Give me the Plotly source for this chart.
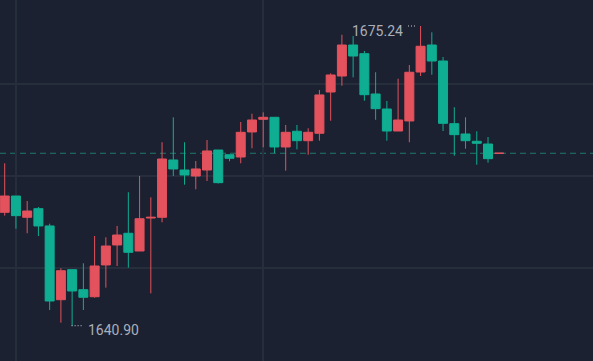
import plotly.graph_objects as go

idx = list(range(45))
open_ = [1653.89, 1655.76, 1653.32, 1654.31, 1652.33, 1643.88, 1647.32, 1645.03, 1644.22, 1647.86,
         1650.15, 1651.49, 1649.46, 1653.24, 1653.32, 1659.89, 1658.74, 1658.05, 1658.74, 1661.03,
         1660.49, 1660.23, 1663.10, 1664.55, 1664.78, 1661.38, 1663.18, 1662.10, 1662.95, 1667.68,
         1669.51, 1673.06, 1672.07, 1667.45, 1665.73, 1663.21, 1664.36, 1669.97, 1673.06, 1671.23,
         1664.05, 1662.87, 1662.03, 1661.72, 1660.66]
high = [1659.51, 1655.76, 1655.19, 1654.50, 1652.59, 1647.48, 1647.32, 1648.05, 1651.18, 1651.03,
        1652.33, 1656.19, 1658.05, 1655.61, 1661.92, 1664.78, 1661.92, 1659.77, 1662.18, 1661.03,
        1660.49, 1664.24, 1665.19, 1665.35, 1664.78, 1663.90, 1663.90, 1663.52, 1667.91, 1669.82,
        1674.24, 1674.10, 1672.38, 1669.94, 1666.65, 1669.20, 1670.77, 1675.24, 1674.52, 1671.69,
        1665.93, 1664.78, 1663.18, 1662.52, 1660.66]
low = [1653.51, 1652.02, 1651.49, 1651.18, 1642.70, 1641.25, 1640.90, 1642.70, 1644.11, 1645.26,
       1647.74, 1647.55, 1649.46, 1644.61, 1652.75, 1658.05, 1657.06, 1656.53, 1657.48, 1657.20,
       1659.74, 1659.51, 1661.23, 1661.34, 1660.66, 1658.66, 1661.11, 1660.49, 1662.10, 1664.39,
       1668.40, 1669.36, 1666.68, 1664.50, 1662.10, 1663.21, 1661.92, 1669.51, 1669.66, 1663.21,
       1660.38, 1661.18, 1659.35, 1659.58, 1660.66]
close = [1655.76, 1653.51, 1654.04, 1652.33, 1643.73, 1647.20, 1644.88, 1644.16, 1647.74, 1650.03,
         1651.29, 1649.31, 1653.16, 1653.32, 1660.00, 1658.86, 1658.17, 1658.86, 1660.92, 1657.29,
         1660.08, 1663.06, 1664.47, 1664.78, 1661.38, 1663.06, 1662.10, 1663.06, 1667.34, 1669.63,
         1673.06, 1671.80, 1667.37, 1665.77, 1663.21, 1664.47, 1669.94, 1672.92, 1671.23, 1664.09,
         1662.79, 1662.10, 1661.80, 1660.04, 1660.66]

grid_x = [1, 23]
grid_y = [1636.90, 1647.46, 1658.05, 1668.65]
y_range = [1636.856, 1678.22]
x_range = [-0.418, 52.34]

UP = "#e3525d"
DOWN = "#0fae93"
BG = "#1b2130"
GRID = "#262e3c"
LABEL = "#aab0bb"

fig = go.Figure(go.Candlestick(
    x=idx, open=open_, high=high, low=low, close=close,
    increasing=dict(line=dict(color=UP, width=1), fillcolor=UP),
    decreasing=dict(line=dict(color=DOWN, width=1), fillcolor=DOWN),
    hoverinfo="skip",
))

hi = max(high)
hi_i = high.index(hi)
lo = min(low)
lo_i = low.index(lo)
last = close[-1]

# current price dashed line
fig.add_shape(type="line", xref="paper", x0=0, x1=1, yref="y", y0=last, y1=last,
              line=dict(color="#1f7a6b", width=1, dash="6px,4px"), layer="below")

# max / min markers
fig.add_shape(type="line", xref="x", yref="y", x0=hi_i - 1.12, x1=hi_i - 0.4, y0=hi, y1=hi,
              line=dict(color="#c8ccd4", width=1, dash="1px,2px"))
fig.add_shape(type="line", xref="x", yref="y", x0=lo_i - 0.05, x1=lo_i + 0.98, y0=lo, y1=lo,
              line=dict(color="#c8ccd4", width=1, dash="1px,2px"))

fig.add_annotation(x=hi_i - 1.38, y=hi, xref="x", yref="y", text=f"{hi:.2f}",
                   showarrow=False, xanchor="right", yanchor="middle", yshift=-4.5,
                   font=dict(family="Roboto", size=14, color=LABEL))
fig.add_annotation(x=lo_i + 1.27, y=lo, xref="x", yref="y", text=f"{lo:.2f}",
                   showarrow=False, xanchor="left", yanchor="middle", yshift=-4.5,
                   font=dict(family="Roboto", size=14, color=LABEL))

fig.update_layout(
    width=593, height=361,
    margin=dict(l=0, r=0, t=0, b=0),
    paper_bgcolor=BG, plot_bgcolor=BG,
    showlegend=False,
    boxgap=0.2,
    boxgroupgap=0,
    hovermode=False,
    xaxis=dict(range=x_range, tickvals=grid_x, showticklabels=False, showgrid=True,
               gridcolor=GRID, gridwidth=1.5, zeroline=False, showline=False,
               rangeslider=dict(visible=False), fixedrange=True),
    yaxis=dict(range=y_range, tickvals=grid_y, showticklabels=False, showgrid=True,
               gridcolor=GRID, gridwidth=1.5, zeroline=False, showline=False, fixedrange=True),
)

fig.write_html("out.html", config={"displayModeBar": False},
               post_script="document.body.style.margin='0';document.body.style.overflow='hidden';document.body.style.background='#1b2130';")
